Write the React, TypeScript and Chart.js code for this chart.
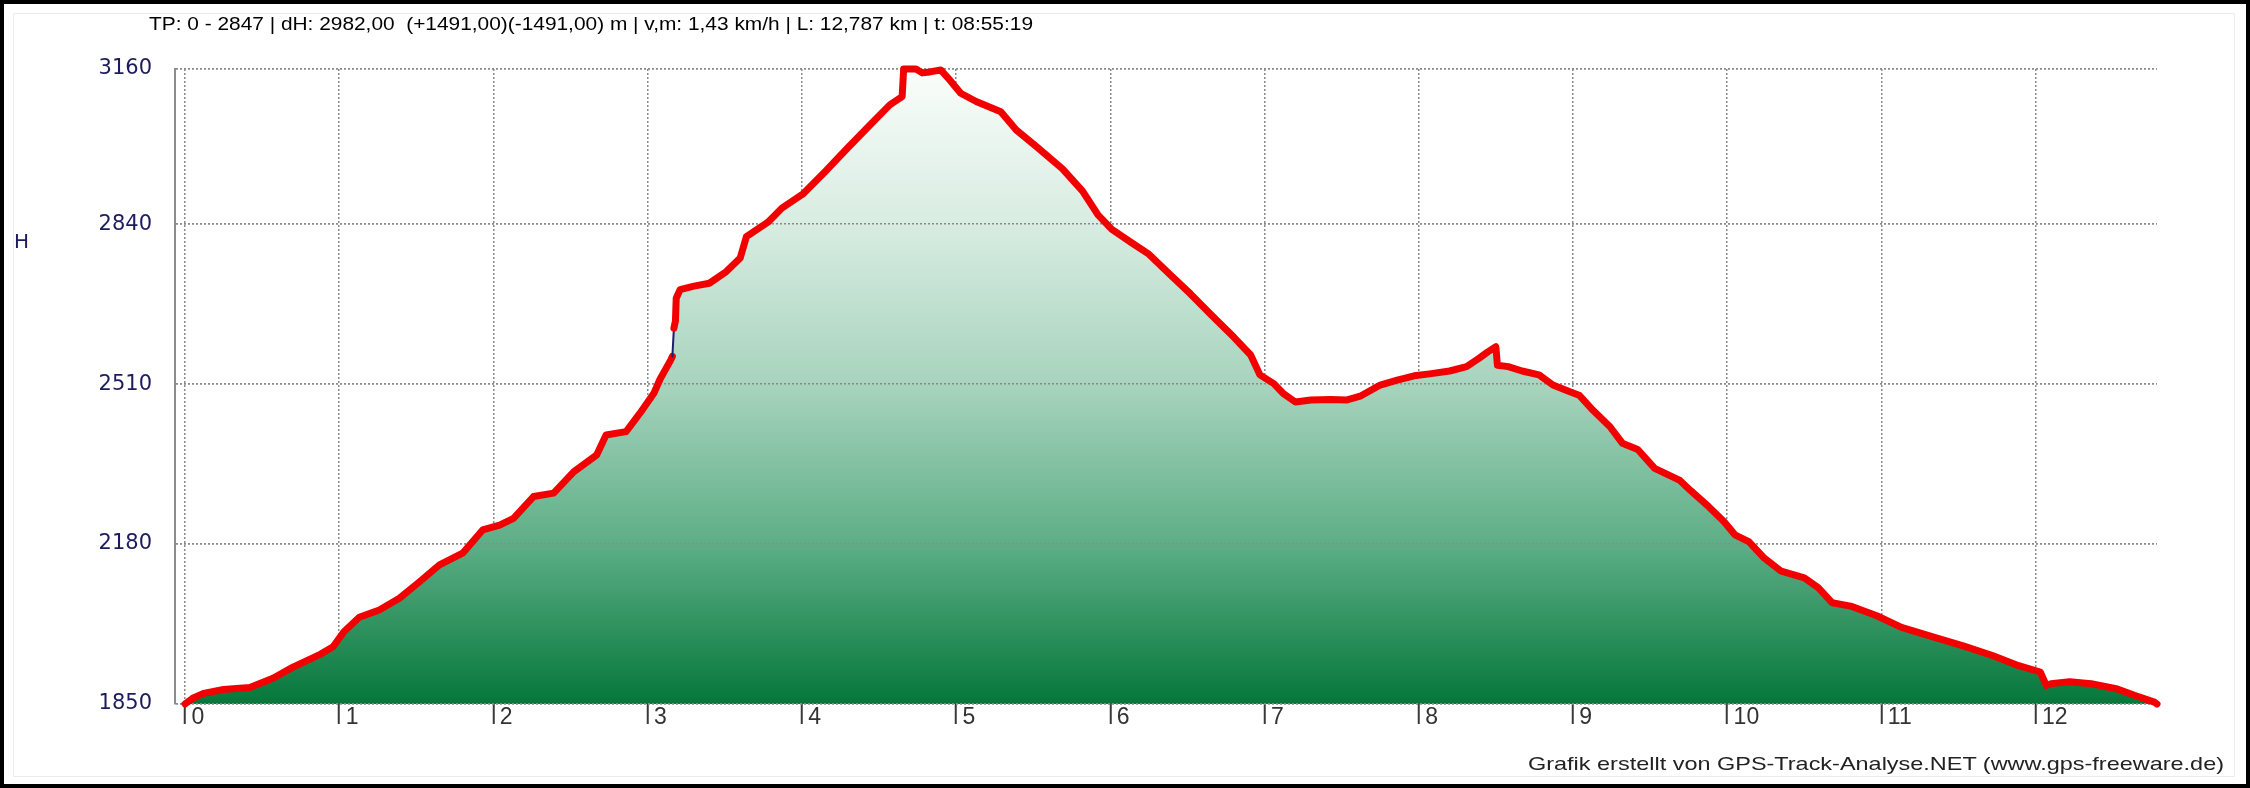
import React, { useEffect, useRef } from 'react';
import { Chart, registerables } from 'chart.js';

Chart.register(...registerables);

// ---- data ----
const distanceKm = [
  0.0, 0.05, 0.12, 0.25, 0.42, 0.57, 0.7, 0.88, 0.96, 1.03, 1.13, 1.26, 1.39, 1.52, 1.65, 1.8, 1.93,
  2.04, 2.13, 2.26, 2.39, 2.52, 2.67, 2.73, 2.86, 2.95, 3.04, 3.08, 3.15, 3.16, 3.17, 3.18, 3.185,
  3.21, 3.3, 3.4, 3.51, 3.6, 3.64, 3.78, 3.87, 4.01, 4.15, 4.29, 4.44, 4.57, 4.65, 4.66, 4.74, 4.78,
  4.83, 4.9, 4.96, 5.03, 5.13, 5.29, 5.39, 5.52, 5.69, 5.82, 5.92, 6.01, 6.15, 6.25, 6.38, 6.52,
  6.66, 6.8, 6.91, 6.97, 7.06, 7.12, 7.2, 7.3, 7.43, 7.53, 7.62, 7.75, 7.86, 7.97, 8.07, 8.2, 8.31,
  8.39, 8.45, 8.5, 8.51, 8.58, 8.67, 8.78, 8.87, 8.98, 9.04, 9.13, 9.24, 9.32, 9.42, 9.53, 9.69,
  9.76, 9.88, 9.98, 10.05, 10.14, 10.24, 10.35, 10.5, 10.59, 10.68, 10.8, 10.97, 11.13, 11.35,
  11.53, 11.72, 11.89, 12.03, 12.07, 12.1, 12.22, 12.36, 12.53, 12.64, 12.77, 12.787,
];
const elevationM = [
  1850, 1862, 1872, 1880, 1884, 1903, 1926, 1953, 1968, 1999, 2029, 2044, 2068, 2102, 2137, 2161, 2209,
  2219, 2233, 2278, 2285, 2329, 2364, 2405, 2412, 2450, 2491, 2520, 2560, 2567, 2625, 2640, 2687,
  2705, 2712, 2718, 2742, 2770, 2814, 2844, 2873, 2903, 2948, 2995, 3044, 3086, 3103, 3160, 3160, 3152,
  3154, 3158, 3137, 3110, 3093, 3072, 3034, 3000, 2954, 2908, 2859, 2829, 2799, 2778, 2738, 2696,
  2651, 2607, 2570, 2529, 2511, 2491, 2473, 2477, 2478, 2477, 2485, 2508, 2518, 2527, 2531, 2537, 2546,
  2563, 2577, 2587, 2549, 2546, 2537, 2529, 2508, 2494, 2487, 2456, 2422, 2388, 2375, 2336, 2312,
  2291, 2257, 2226, 2199, 2185, 2151, 2124, 2110, 2090, 2059, 2052, 2032, 2008, 1987,
  1970, 1950, 1929, 1916, 1888, 1892, 1896, 1892, 1881, 1868, 1854, 1850,
];
// GPS gap (drawn thin and dark) starts at this distance
const gapStartKm = [3.16];
const xTickValues = [0, 1, 2, 3, 4, 5, 6, 7, 8, 9, 10, 11, 12];
const yTickValues = [1850, 2180, 2510, 2840, 3160];
const xMin = -0.065;
const xMax = 12.787;
const yMin = 1850;
const yMax = 3160;
const titleText =
  'TP: 0 - 2847 | dH: 2982,00  (+1491,00)(-1491,00) m | v,m: 1,43 km/h | L: 12,787 km | t: 08:55:19';
const creditText = 'Grafik erstellt von GPS-Track-Analyse.NET (www.gps-freeware.de)';
const yAxisTitle = 'H';

export default function App() {
  const canvasRef = useRef<HTMLCanvasElement | null>(null);
  const titleRef = useRef<HTMLDivElement | null>(null);
  const creditRef = useRef<HTMLDivElement | null>(null);

  useEffect(() => {
    document.body.style.margin = '0';
    const fit = (el: HTMLDivElement | null, target: number) => {
      if (!el) return;
      el.style.transform = 'none';
      const w = el.getBoundingClientRect().width;
      if (w > 0) el.style.transform = `scaleX(${target / w})`;
    };
    fit(titleRef.current, 884);
    fit(creditRef.current, 696);

    const canvas = canvasRef.current;
    if (!canvas) return;
    const points = distanceKm.map((x, i) => ({ x, y: elevationM[i] }));
    const gapIdx = distanceKm.indexOf(gapStartKm[0]);

    const gridOverFill = {
      id: 'gridOverFill',
      afterDatasetDraw(chart: any, args: any) {
        if (args.index !== 0) return;
        chart.scales.y.drawGrid(chart.chartArea);
      },
    };

    const chart = new Chart(canvas, {
      type: 'line',
      data: {
        datasets: [
          {
            data: points,
            order: 2,
            borderWidth: 0,
            pointRadius: 0,
            fill: 'start',
            tension: 0,
            backgroundColor: (ctx: any) => {
              const c = ctx.chart;
              const a = c.chartArea;
              if (!a) return 'rgba(0,0,0,0)';
              const g = c.ctx.createLinearGradient(0, a.top, 0, a.bottom);
              g.addColorStop(0, '#fafdfb');
              g.addColorStop(0.25, '#d7ece1');
              g.addColorStop(0.5, '#a7d3bd');
              g.addColorStop(0.75, '#5cae86');
              g.addColorStop(1, '#05773a');
              return g;
            },
          },
          {
            data: points,
            order: 1,
            fill: false,
            borderColor: '#f20000',
            borderWidth: 7,
            borderJoinStyle: 'round',
            borderCapStyle: 'round',
            pointRadius: 0,
            tension: 0,
            clip: 10,
            segment: {
              borderColor: (ctx: any) => (ctx.p0DataIndex === gapIdx ? '#1c1c7a' : undefined),
              borderWidth: (ctx: any) => (ctx.p0DataIndex === gapIdx ? 2 : undefined),
            },
          },
        ],
      },
      options: {
        responsive: false,
        animation: false,
        events: [],
        layout: { padding: { left: 0, top: 69, right: 93, bottom: 0 } },
        plugins: {
          legend: { display: false },
          tooltip: { enabled: false },
          title: { display: false },
        },
        scales: {
          x: {
            type: 'linear',
            min: xMin,
            max: xMax,
            afterBuildTicks: (s: any) => {
              s.ticks = xTickValues.map((v) => ({ value: v }));
            },
            afterFit: (s: any) => {
              s.height = 84;
            },
            grid: {
              color: '#8a8a8a',
              lineWidth: 1.5,
              drawTicks: true,
              tickLength: 20,
              tickColor: '#3a3a3a',
              tickWidth: 2,
              tickBorderDash: [],
            },
            border: { display: false, dash: [2, 2] },
            ticks: {
              align: 'start',
              padding: -20,
              color: '#333333',
              autoSkip: false,
              maxRotation: 0,
              font: { family: '"Liberation Sans Narrow", "Arial Narrow", "Liberation Sans", sans-serif', size: 23 },
              callback: (v: any) => ' ' + v,
            },
          },
          y: {
            type: 'linear',
            min: yMin,
            max: yMax,
            afterBuildTicks: (s: any) => {
              s.ticks = yTickValues.map((v) => ({ value: v }));
            },
            afterFit: (s: any) => {
              s.width = 175;
            },
            grid: { color: '#8a8a8a', lineWidth: 1.5, drawTicks: false },
            border: { display: true, color: '#8c8c8c', width: 2, dash: [2, 2] },
            ticks: {
              padding: 23,
              color: '#1c1c5c',
              font: { family: '"DejaVu Sans", sans-serif', size: 21 },
              callback: (v: any) => String(v),
            },
          },
        },
      },
      plugins: [gridOverFill],
    } as any);

    return () => chart.destroy();
  }, []);

  return (
    <div
      style={{
        position: 'fixed',
        left: 0,
        top: 0,
        width: 2250,
        height: 788,
        background: '#000',
        overflow: 'hidden',
      }}
    >
      <div style={{ position: 'absolute', left: 4, top: 4, width: 2242, height: 780, background: '#fff' }} />
      <div
        style={{
          position: 'absolute',
          left: 13,
          top: 13,
          width: 2220,
          height: 762,
          border: '1px solid #ececec',
        }}
      />
      <canvas
        ref={canvasRef}
        width={2250}
        height={788}
        style={{ position: 'absolute', left: 0, top: 0, width: 2250, height: 788 }}
      />
      <div
        ref={titleRef}
        style={{
          position: 'absolute',
          left: 149,
          top: 13,
          whiteSpace: 'pre',
          transformOrigin: '0 0',
          font: '19px "Liberation Sans", Arial, sans-serif',
          color: '#000',
        }}
      >
        {titleText}
      </div>
      <div
        style={{
          position: 'absolute',
          left: 14,
          top: 229,
          font: '20px "DejaVu Sans", sans-serif',
          color: '#1c1c5c',
        }}
      >
        {yAxisTitle}
      </div>
      <div
        ref={creditRef}
        style={{
          position: 'absolute',
          left: 1528,
          top: 753,
          whiteSpace: 'pre',
          transformOrigin: '0 0',
          font: '19px "Liberation Sans", Arial, sans-serif',
          color: '#222',
        }}
      >
        {creditText}
      </div>
    </div>
  );
}
